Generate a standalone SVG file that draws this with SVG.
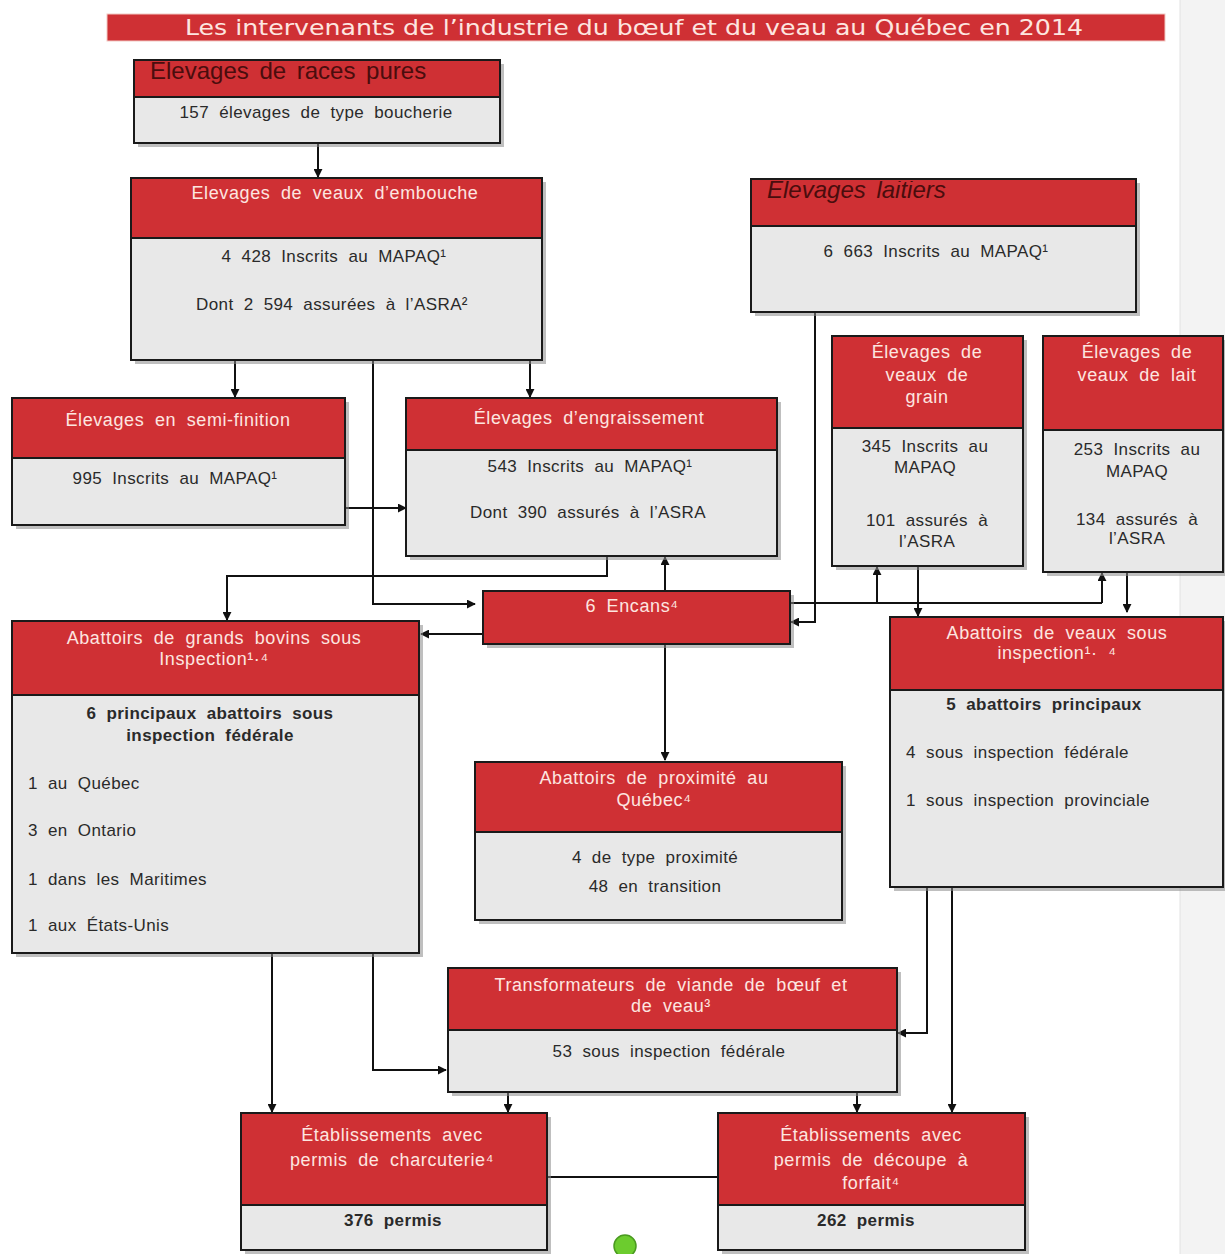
<svg xmlns="http://www.w3.org/2000/svg" width="1225" height="1254" viewBox="0 0 1225 1254">
<defs>
<marker id="ah" viewBox="0 0 10 10" refX="9" refY="5" markerWidth="9" markerHeight="9" markerUnits="userSpaceOnUse" orient="auto">
<path d="M0,0 L10,5 L0,10 z" fill="#111"/>
</marker>
<clipPath id="c1"><rect x="134" y="62" width="366" height="35"/></clipPath>
<clipPath id="c2"><rect x="751" y="181" width="385" height="45"/></clipPath>
</defs>
<style>
.sh{fill:#8a8a8a;opacity:0.55}
.hd{fill:#cf3034;stroke:#1a1a1a;stroke-width:2}
.bd{fill:#e8e8e8;stroke:#1a1a1a;stroke-width:2}
.ht{font-family:"Liberation Sans",Arial,sans-serif;font-size:18px;fill:#fde6e0;text-anchor:middle;word-spacing:5px;letter-spacing:0.6px}
.bt{font-family:"Liberation Sans",Arial,sans-serif;font-size:17px;fill:#2a2a2a;text-anchor:middle;word-spacing:5px;letter-spacing:0.4px}
.bl{text-anchor:start}
.b{font-weight:bold}
.dk{font-family:"Liberation Sans",Arial,sans-serif;font-size:24px;fill:#4a0d0d;word-spacing:4px}
.cn{fill:none;stroke:#111;stroke-width:2}
.ar{marker-end:url(#ah)}
</style>
<rect x="0" y="0" width="1225" height="1254" fill="#ffffff"/>
<rect x="1180" y="0" width="45" height="1254" fill="#f3f3f3"/>
<line x1="1180" y1="0" x2="1180" y2="1254" stroke="#e2e2e2" stroke-width="1"/>

<g id="title">
<rect x="107" y="14" width="1058" height="27" fill="#cf3034" stroke="#f2c9c4" stroke-width="1"/>
<text x="634" y="35" font-family="DejaVu Sans Condensed,'DejaVu Sans',sans-serif" font-size="22" fill="#fde6e0" text-anchor="middle" textLength="898" lengthAdjust="spacingAndGlyphs">Les intervenants de l’industrie du bœuf et du veau au Québec en 2014</text>
</g>

<g id="connectors">
<path class="cn ar" d="M318,143 V177"/>
<path class="cn ar" d="M235,360 V397"/>
<path class="cn ar" d="M530,360 V397"/>
<path class="cn ar" d="M373,360 V604 H475"/>
<path class="cn ar" d="M345,508 H406"/>
<path class="cn ar" d="M607,556 V576 H227 V620"/>
<path class="cn ar" d="M665,591 V557"/>
<path class="cn ar" d="M815,312 V622 H791"/>
<path class="cn" d="M790,603 H1102"/>
<path class="cn ar" d="M877,603 V567"/>
<path class="cn ar" d="M1102,603 V573"/>
<path class="cn ar" d="M918,566 V616"/>
<path class="cn ar" d="M1127,572 V612"/>
<path class="cn ar" d="M483,634 H421"/>
<path class="cn ar" d="M665,644 V760"/>
<path class="cn ar" d="M927,887 V1033 H898"/>
<path class="cn ar" d="M952,887 V1112"/>
<path class="cn ar" d="M272,953 V1112"/>
<path class="cn ar" d="M373,953 V1070 H446"/>
<path class="cn ar" d="M508,1092 V1112"/>
<path class="cn ar" d="M857,1092 V1112"/>
<path class="cn" d="M547,1177 H718"/>
</g>

<g id="races-pures">
<rect class="sh" x="138" y="64" width="366" height="83"/>
<rect class="hd" x="134" y="60" width="366" height="37"/>
<rect class="bd" x="134" y="97" width="366" height="46"/>
<text class="dk" x="150" y="79" clip-path="url(#c1)">Elevages de races pures</text>
<text class="bt" x="316" y="118">157 élevages de type boucherie</text>
</g>

<g id="embouche">
<rect class="sh" x="135" y="182" width="411" height="182"/>
<rect class="hd" x="131" y="178" width="411" height="60"/>
<rect class="bd" x="131" y="238" width="411" height="122"/>
<text class="ht" x="335" y="199">Elevages de veaux d’embouche</text>
<text class="bt" x="334" y="262">4 428 Inscrits au MAPAQ¹</text>
<text class="bt" x="332" y="310">Dont 2 594 assurées à l’ASRA²</text>
</g>

<g id="laitiers">
<rect class="sh" x="755" y="183" width="385" height="133"/>
<rect class="hd" x="751" y="179" width="385" height="47"/>
<rect class="bd" x="751" y="226" width="385" height="86"/>
<text class="dk" x="767" y="198" font-style="italic" clip-path="url(#c2)">Elevages laitiers</text>
<text class="bt" x="936" y="257">6 663 Inscrits au MAPAQ¹</text>
</g>

<g id="semi-finition">
<rect class="sh" x="16" y="402" width="333" height="127"/>
<rect class="hd" x="12" y="398" width="333" height="60"/>
<rect class="bd" x="12" y="458" width="333" height="67"/>
<text class="ht" x="178" y="426">Élevages en semi-finition</text>
<text class="bt" x="175" y="484">995 Inscrits au MAPAQ¹</text>
</g>

<g id="engraissement">
<rect class="sh" x="410" y="402" width="371" height="158"/>
<rect class="hd" x="406" y="398" width="371" height="52"/>
<rect class="bd" x="406" y="450" width="371" height="106"/>
<text class="ht" x="589" y="424">Élevages d’engraissement</text>
<text class="bt" x="590" y="472">543 Inscrits au MAPAQ¹</text>
<text class="bt" x="588" y="518">Dont 390 assurés à l’ASRA</text>
</g>

<g id="veaux-grain">
<rect class="sh" x="836" y="340" width="191" height="230"/>
<rect class="hd" x="832" y="336" width="191" height="92"/>
<rect class="bd" x="832" y="428" width="191" height="138"/>
<text class="ht" x="927" y="358">Élevages de</text>
<text class="ht" x="927" y="381">veaux de</text>
<text class="ht" x="927" y="403">grain</text>
<text class="bt" x="925" y="452">345 Inscrits au</text>
<text class="bt" x="925" y="473">MAPAQ</text>
<text class="bt" x="927" y="526" font-size="15">101 assurés à</text>
<text class="bt" x="927" y="547" font-size="15">l’ASRA</text>
</g>

<g id="veaux-lait">
<rect class="sh" x="1047" y="340" width="180" height="236"/>
<rect class="hd" x="1043" y="336" width="180" height="94"/>
<rect class="bd" x="1043" y="430" width="180" height="142"/>
<text class="ht" x="1137" y="358">Élevages de</text>
<text class="ht" x="1137" y="381">veaux de lait</text>
<text class="bt" x="1137" y="455">253 Inscrits au</text>
<text class="bt" x="1137" y="477">MAPAQ</text>
<text class="bt" x="1137" y="525" font-size="15">134 assurés à</text>
<text class="bt" x="1137" y="544" font-size="15">l’ASRA</text>
</g>

<g id="encans">
<rect class="sh" x="487" y="595" width="307" height="53"/>
<rect class="hd" x="483" y="591" width="307" height="53"/>
<text class="ht" x="632" y="612" font-size="19">6 Encans⁴</text>
</g>

<g id="abattoirs-bovins">
<rect class="sh" x="16" y="625" width="407" height="332"/>
<rect class="hd" x="12" y="621" width="407" height="74"/>
<rect class="bd" x="12" y="695" width="407" height="258"/>
<text class="ht" x="214" y="644">Abattoirs de grands bovins sous</text>
<text class="ht" x="214" y="665">Inspection¹·⁴</text>
<text class="bt b" x="210" y="719">6 principaux abattoirs sous</text>
<text class="bt b" x="210" y="741">inspection fédérale</text>
<text class="bt bl" x="28" y="789">1 au Québec</text>
<text class="bt bl" x="28" y="836">3 en Ontario</text>
<text class="bt bl" x="28" y="885">1 dans les Maritimes</text>
<text class="bt bl" x="28" y="931">1 aux États-Unis</text>
</g>

<g id="abattoirs-veaux">
<rect class="sh" x="894" y="621" width="333" height="270"/>
<rect class="hd" x="890" y="617" width="333" height="73"/>
<rect class="bd" x="890" y="690" width="333" height="197"/>
<text class="ht" x="1057" y="639">Abattoirs de veaux sous</text>
<text class="ht" x="1057" y="659">inspection¹· ⁴</text>
<text class="bt b" x="1044" y="710">5 abattoirs principaux</text>
<text class="bt bl" x="906" y="758">4 sous inspection fédérale</text>
<text class="bt bl" x="906" y="806">1 sous inspection provinciale</text>
</g>

<g id="abattoirs-proximite">
<rect class="sh" x="479" y="766" width="367" height="158"/>
<rect class="hd" x="475" y="762" width="367" height="70"/>
<rect class="bd" x="475" y="832" width="367" height="88"/>
<text class="ht" x="654" y="784">Abattoirs de proximité au</text>
<text class="ht" x="654" y="806">Québec⁴</text>
<text class="bt" x="655" y="863">4 de type proximité</text>
<text class="bt" x="655" y="892">48 en transition</text>
</g>

<g id="transformateurs">
<rect class="sh" x="452" y="972" width="449" height="124"/>
<rect class="hd" x="448" y="968" width="449" height="62"/>
<rect class="bd" x="448" y="1030" width="449" height="62"/>
<text class="ht" x="671" y="991">Transformateurs de viande de bœuf et</text>
<text class="ht" x="671" y="1012">de veau³</text>
<text class="bt" x="669" y="1057">53 sous inspection fédérale</text>
</g>

<g id="charcuterie">
<rect class="sh" x="245" y="1117" width="306" height="137"/>
<rect class="hd" x="241" y="1113" width="306" height="92"/>
<rect class="bd" x="241" y="1205" width="306" height="45"/>
<text class="ht" x="392" y="1141">Établissements avec</text>
<text class="ht" x="392" y="1166">permis de charcuterie⁴</text>
<text class="bt b" x="393" y="1226">376 permis</text>
</g>

<g id="decoupe">
<rect class="sh" x="722" y="1117" width="307" height="137"/>
<rect class="hd" x="718" y="1113" width="307" height="92"/>
<rect class="bd" x="718" y="1205" width="307" height="45"/>
<text class="ht" x="871" y="1141">Établissements avec</text>
<text class="ht" x="871" y="1166">permis de découpe à</text>
<text class="ht" x="871" y="1189">forfait⁴</text>
<text class="bt b" x="866" y="1226">262 permis</text>
</g>

<g id="green-dot">
<circle cx="625" cy="1246" r="11" fill="#6ccc2e" stroke="#4a9a20" stroke-width="1.5"/>
</g>
</svg>
